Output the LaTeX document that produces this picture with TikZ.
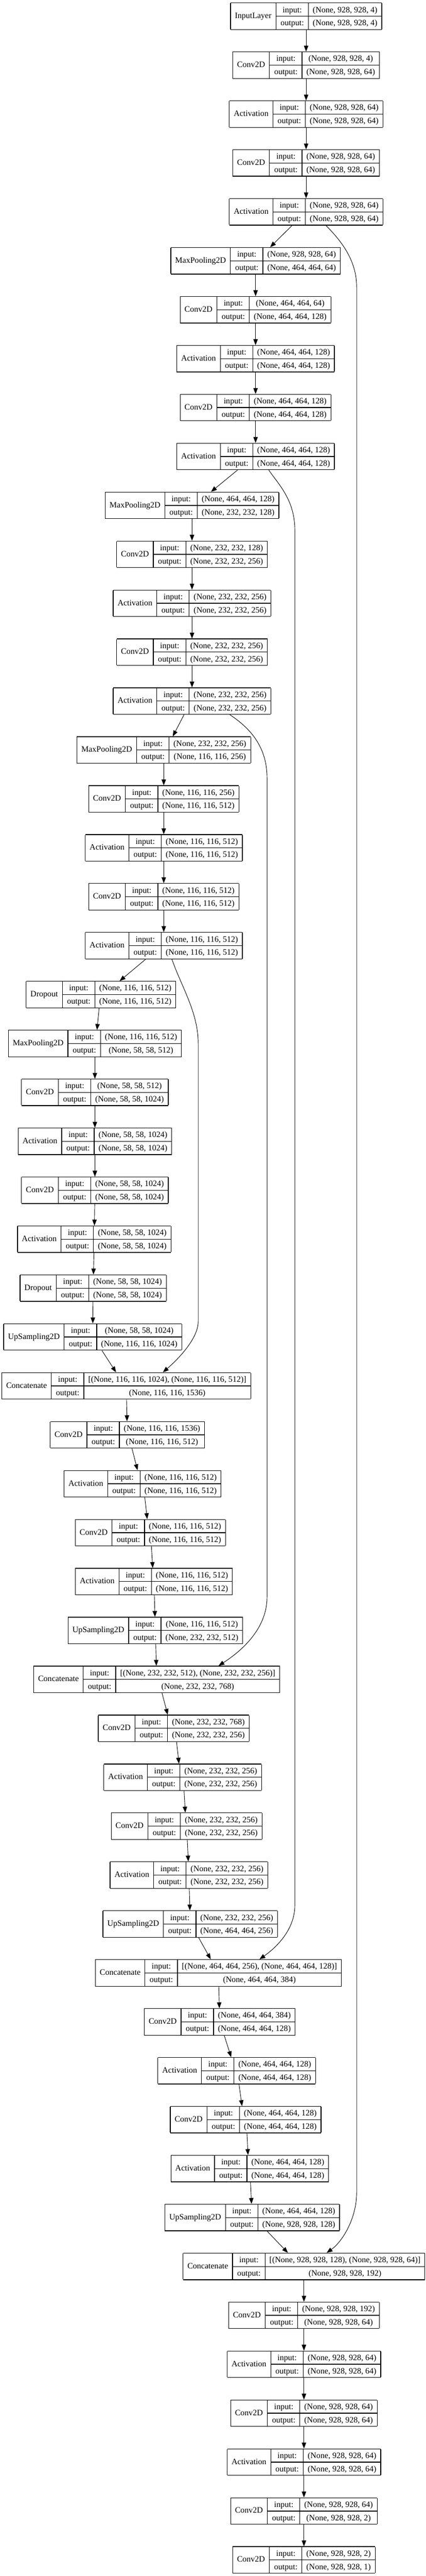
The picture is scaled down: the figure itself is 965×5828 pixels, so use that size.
\documentclass[tikz,border=0pt]{standalone}
\usepackage{fontspec}
\setmainfont{Liberation Serif}
\usepackage{tikz}
\usetikzlibrary{arrows.meta}
\usetikzlibrary{calc}

\setlength{\tabcolsep}{7.5pt}
\setlength{\arrayrulewidth}{1.1pt}
\newcommand{\cellstrut}{\rule[-6pt]{0pt}{21.4pt}}
\newcommand{\recordbox}[3]{%
  \begin{tabular}{|c|@{}c@{}|}\hline
    #1 & \begin{tabular}{c|c}
           \cellstrut input: & #2 \\ \hline
           \cellstrut output: & #3
         \end{tabular} \\ \hline
  \end{tabular}}

\begin{document}
\begin{tikzpicture}[->,>={Triangle[length=10pt,width=7.5pt]},
    x=0.75pt, y=-0.75pt,
    record/.style={inner sep=0pt, outer sep=0pt,
      font=\fontsize{14pt}{17pt}\selectfont},
    flow/.style={line width=0.8pt}]

  \useasboundingbox (0,0) rectangle (965,5828);

  % contracting path
  \node[record] (Input)  at (693.5,36.75)  {\recordbox{InputLayer}{(None, 928, 928, 4)}{(None, 928, 928, 4)}};
  \node[record] (Conv1a) at (693.5,147.42) {\recordbox{Conv2D}{(None, 928, 928, 4)}{(None, 928, 928, 64)}};
  \node[record] (Act1a)  at (693.5,258.09) {\recordbox{Activation}{(None, 928, 928, 64)}{(None, 928, 928, 64)}};
  \node[record] (Conv1b) at (693.5,368.76) {\recordbox{Conv2D}{(None, 928, 928, 64)}{(None, 928, 928, 64)}};
  \node[record] (Act1b)  at (693.5,479.43) {\recordbox{Activation}{(None, 928, 928, 64)}{(None, 928, 928, 64)}};

  \node[record] (Pool1)  at (579,590.10)  {\recordbox{MaxPooling2D}{(None, 928, 928, 64)}{(None, 464, 464, 64)}};
  \node[record] (Conv2a) at (579,700.77)  {\recordbox{Conv2D}{(None, 464, 464, 64)}{(None, 464, 464, 128)}};
  \node[record] (Act2a)  at (579,811.44)  {\recordbox{Activation}{(None, 464, 464, 128)}{(None, 464, 464, 128)}};
  \node[record] (Conv2b) at (579,922.11)  {\recordbox{Conv2D}{(None, 464, 464, 128)}{(None, 464, 464, 128)}};
  \node[record] (Act2b)  at (579,1032.78) {\recordbox{Activation}{(None, 464, 464, 128)}{(None, 464, 464, 128)}};

  \node[record] (Pool2)  at (435,1143.45) {\recordbox{MaxPooling2D}{(None, 464, 464, 128)}{(None, 232, 232, 128)}};
  \node[record] (Conv3a) at (435,1254.12) {\recordbox{Conv2D}{(None, 232, 232, 128)}{(None, 232, 232, 256)}};
  \node[record] (Act3a)  at (435,1364.79) {\recordbox{Activation}{(None, 232, 232, 256)}{(None, 232, 232, 256)}};
  \node[record] (Conv3b) at (435,1475.46) {\recordbox{Conv2D}{(None, 232, 232, 256)}{(None, 232, 232, 256)}};
  \node[record] (Act3b)  at (435,1586.13) {\recordbox{Activation}{(None, 232, 232, 256)}{(None, 232, 232, 256)}};

  \node[record] (Pool3)  at (371,1696.80) {\recordbox{MaxPooling2D}{(None, 232, 232, 256)}{(None, 116, 116, 256)}};
  \node[record] (Conv4a) at (371,1807.47) {\recordbox{Conv2D}{(None, 116, 116, 256)}{(None, 116, 116, 512)}};
  \node[record] (Act4a)  at (371,1918.14) {\recordbox{Activation}{(None, 116, 116, 512)}{(None, 116, 116, 512)}};
  \node[record] (Conv4b) at (371,2028.81) {\recordbox{Conv2D}{(None, 116, 116, 512)}{(None, 116, 116, 512)}};
  \node[record] (Act4b)  at (371,2139.48) {\recordbox{Activation}{(None, 116, 116, 512)}{(None, 116, 116, 512)}};
  \node[record] (Drop4)  at (228.7,2250.15) {\recordbox{Dropout}{(None, 116, 116, 512)}{(None, 116, 116, 512)}};

  % bottleneck
  \node[record] (Pool4)  at (215,2360.82) {\recordbox{MaxPooling2D}{(None, 116, 116, 512)}{(None, 58, 58, 512)}};
  \node[record] (Conv5a) at (215,2471.49) {\recordbox{Conv2D}{(None, 58, 58, 512)}{(None, 58, 58, 1024)}};
  \node[record] (Act5a)  at (215,2582.16) {\recordbox{Activation}{(None, 58, 58, 1024)}{(None, 58, 58, 1024)}};
  \node[record] (Conv5b) at (215,2692.83) {\recordbox{Conv2D}{(None, 58, 58, 1024)}{(None, 58, 58, 1024)}};
  \node[record] (Act5b)  at (213.5,2803.50) {\recordbox{Activation}{(None, 58, 58, 1024)}{(None, 58, 58, 1024)}};
  \node[record] (Drop5)  at (211,2914.17) {\recordbox{Dropout}{(None, 58, 58, 1024)}{(None, 58, 58, 1024)}};

  % expanding path
  \node[record] (Up6)    at (210,3024.84) {\recordbox{UpSampling2D}{(None, 58, 58, 1024)}{(None, 116, 116, 1024)}};
  \node[record] (Merge6) at (286,3135.51) {\recordbox{Concatenate}{[(None, 116, 116, 1024), (None, 116, 116, 512)]}{(None, 116, 116, 1536)}};
  \node[record] (Conv6a) at (288.5,3246.18) {\recordbox{Conv2D}{(None, 116, 116, 1536)}{(None, 116, 116, 512)}};
  \node[record] (Act6a)  at (323,3356.85) {\recordbox{Activation}{(None, 116, 116, 512)}{(None, 116, 116, 512)}};
  \node[record] (Conv6b) at (340.7,3467.52) {\recordbox{Conv2D}{(None, 116, 116, 512)}{(None, 116, 116, 512)}};
  \node[record] (Act6b)  at (348.7,3578.19) {\recordbox{Activation}{(None, 116, 116, 512)}{(None, 116, 116, 512)}};

  \node[record] (Up7)    at (352,3688.86) {\recordbox{UpSampling2D}{(None, 116, 116, 512)}{(None, 232, 232, 512)}};
  \node[record] (Merge7) at (355,3799.53) {\recordbox{Concatenate}{[(None, 232, 232, 512), (None, 232, 232, 256)]}{(None, 232, 232, 768)}};
  \node[record] (Conv7a) at (393.6,3910.20) {\recordbox{Conv2D}{(None, 232, 232, 768)}{(None, 232, 232, 256)}};
  \node[record] (Act7a)  at (413.8,4020.87) {\recordbox{Activation}{(None, 232, 232, 256)}{(None, 232, 232, 256)}};
  \node[record] (Conv7b) at (422.8,4131.54) {\recordbox{Conv2D}{(None, 232, 232, 256)}{(None, 232, 232, 256)}};
  \node[record] (Act7b)  at (428,4242.21) {\recordbox{Activation}{(None, 232, 232, 256)}{(None, 232, 232, 256)}};

  \node[record] (Up8)    at (431,4352.88) {\recordbox{UpSampling2D}{(None, 232, 232, 256)}{(None, 464, 464, 256)}};
  \node[record] (Merge8) at (494.8,4463.55) {\recordbox{Concatenate}{[(None, 464, 464, 256), (None, 464, 464, 128)]}{(None, 464, 464, 384)}};
  \node[record] (Conv8a) at (497.8,4574.22) {\recordbox{Conv2D}{(None, 464, 464, 384)}{(None, 464, 464, 128)}};
  \node[record] (Act8a)  at (536.3,4684.89) {\recordbox{Activation}{(None, 464, 464, 128)}{(None, 464, 464, 128)}};
  \node[record] (Conv8b) at (556.6,4795.56) {\recordbox{Conv2D}{(None, 464, 464, 128)}{(None, 464, 464, 128)}};
  \node[record] (Act8b)  at (565.8,4906.23) {\recordbox{Activation}{(None, 464, 464, 128)}{(None, 464, 464, 128)}};

  \node[record] (Up9)    at (571.4,5016.90) {\recordbox{UpSampling2D}{(None, 464, 464, 128)}{(None, 928, 928, 128)}};
  \node[record] (Merge9) at (688.6,5127.57) {\recordbox{Concatenate}{[(None, 928, 928, 128), (None, 928, 928, 64)]}{(None, 928, 928, 192)}};
  \node[record] (Conv9a) at (688.6,5238.24) {\recordbox{Conv2D}{(None, 928, 928, 192)}{(None, 928, 928, 64)}};
  \node[record] (Act9a)  at (688.6,5348.91) {\recordbox{Activation}{(None, 928, 928, 64)}{(None, 928, 928, 64)}};
  \node[record] (Conv9b) at (688.6,5459.58) {\recordbox{Conv2D}{(None, 928, 928, 64)}{(None, 928, 928, 64)}};
  \node[record] (Act9b)  at (688.6,5570.25) {\recordbox{Activation}{(None, 928, 928, 64)}{(None, 928, 928, 64)}};
  \node[record] (Conv9c) at (688.6,5680.92) {\recordbox{Conv2D}{(None, 928, 928, 64)}{(None, 928, 928, 2)}};
  \node[record] (Conv10) at (688.6,5791.59) {\recordbox{Conv2D}{(None, 928, 928, 2)}{(None, 928, 928, 1)}};

  \path[flow]
    (Input)  edge (Conv1a)
    (Conv1a) edge (Act1a)
    (Act1a)  edge (Conv1b)
    (Conv1b) edge (Act1b)
    ($(Act1b.south)+(-32,0)$) edge ($(Pool1.north)+(33,0)$)
    (Pool1)  edge (Conv2a)
    (Conv2a) edge (Act2a)
    (Act2a)  edge (Conv2b)
    (Conv2b) edge (Act2b)
    ($(Act2b.south)+(-41,0)$) edge ($(Pool2.north)+(43,0)$)
    (Pool2)  edge (Conv3a)
    (Conv3a) edge (Act3a)
    (Act3a)  edge (Conv3b)
    (Conv3b) edge (Act3b)
    ($(Act3b.south)+(-18,0)$) edge ($(Pool3.north)+(20.4,0)$)
    (Pool3)  edge (Conv4a)
    (Conv4a) edge (Act4a)
    (Act4a)  edge (Conv4b)
    (Conv4b) edge (Act4b)
    ($(Act4b.south)+(-41,0)$) edge ($(Drop4.north)+(42.3,0)$)
    ($(Drop4.south)+(-4.1,0)$) edge ($(Pool4.north)+(4.7,0)$)
    (Pool4)  edge (Conv5a)
    (Conv5a) edge (Act5a)
    (Act5a)  edge (Conv5b)
    (Conv5b) edge (Act5b)
    (Act5b)  edge (Drop5)
    (Drop5)  edge (Up6)
    ($(Up6.south)+(21,0)$) edge ($(Merge6.north)+(-23,0)$)
    (Merge6) edge (Conv6a)
    ($(Conv6a.south)+(10.5,0)$) edge ($(Act6a.north)+(-11.5,0)$)
    ($(Act6a.south)+(5,0)$) edge ($(Conv6b.north)+(-7.2,0)$)
    ($(Conv6b.south)+(2.3,0)$) edge ($(Act6b.north)+(-2.7,0)$)
    (Act6b)  edge (Up7)
    (Up7)    edge (Merge7)
    ($(Merge7.south)+(12,0)$) edge ($(Conv7a.north)+(-13.6,0)$)
    ($(Conv7a.south)+(6.4,0)$) edge ($(Act7a.north)+(-8.3,0)$)
    ($(Act7a.south)+(3.2,0)$) edge ($(Conv7b.north)+(-3.1,0)$)
    (Conv7b) edge (Act7b)
    (Act7b)  edge (Up8)
    ($(Up8.south)+(19,0)$) edge ($(Merge8.north)+(-17.3,0)$)
    (Merge8) edge (Conv8a)
    ($(Conv8a.south)+(10.2,0)$) edge ($(Act8a.north)+(-12.6,0)$)
    ($(Act8a.south)+(5.2,0)$) edge ($(Conv8b.north)+(-8.3,0)$)
    ($(Conv8b.south)+(2.8,0)$) edge ($(Act8b.north)+(-4,0)$)
    (Act8b)  edge (Up9)
    ($(Up9.south)+(33.6,0)$) edge ($(Merge9.north)+(-36.3,0)$)
    (Merge9) edge (Conv9a)
    (Conv9a) edge (Act9a)
    (Act9a)  edge (Conv9b)
    (Conv9b) edge (Act9b)
    (Act9b)  edge (Conv9c)
    (Conv9c) edge (Conv10);

  % skip connections
  \draw[flow] ($(Act1b.south)+(45,0)$) .. controls (775,547) and (808,590) .. (808,650)
    -- (808,4960) .. controls (808,5020) and (775,5072) .. ($(Merge9.north)+(51.4,0)$);
  \draw[flow] ($(Act2b.south)+(30,0)$) .. controls (630,1095) and (668,1130) .. (668,1200)
    -- (668,4310) .. controls (668,4370) and (620,4410) .. ($(Merge8.north)+(92.9,0)$);
  \draw[flow] ($(Act3b.south)+(85.6,0)$) .. controls (555,1640) and (605,1680) .. (605,1760)
    -- (605,3613) .. controls (605,3680) and (555,3730) .. ($(Merge7.north)+(140,0)$);
  \draw[flow] ($(Act4b.south)+(18.5,0)$) .. controls (410,2230) and (449,2290) .. (449,2360)
    -- (449,2990) .. controls (449,3030) and (400,3078) .. ($(Merge6.north)+(83,0)$);

\end{tikzpicture}
\end{document}
